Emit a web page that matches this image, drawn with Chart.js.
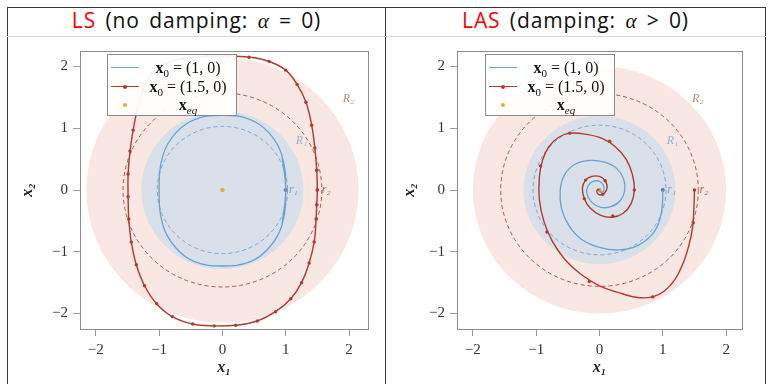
<!DOCTYPE html>
<html>
<head>
<meta charset="utf-8">
<script src="https://cdn.jsdelivr.net/npm/chart.js@4.4.1/dist/chart.umd.min.js"></script>
<style>
  body { margin: 0; width: 768px; height: 384px; background: #fff; position: relative; overflow: hidden; }
  .vline { position: absolute; top: 7px; bottom: 0; width: 1px; background: #3a3a3a; }
  .hline { position: absolute; left: 7px; width: 759px; height: 1px; }
  .title { position: absolute; top: 6px; line-height: 28px; font: 21px "Open Sans", sans-serif; letter-spacing: 0.9px; word-spacing: 3px; color: #111; text-align: center; white-space: nowrap; }
  .title .red { color: #f00; }
  .title i { font-family: "Liberation Serif", serif; }
  .panel { position: absolute; top: 37px; height: 347px; }
  .legend { position: absolute; width: 128px; height: 60px; border: 1px solid #8a8a8a; background: rgba(255,255,255,0.93); font: 16px "Liberation Serif", serif; color: #111; }
  .legend .row { position: absolute; left: 0; width: 100%; height: 19px; line-height: 19px; }
  .legend .key { position: absolute; left: 3px; top: 9px; width: 28px; height: 1.3px; }
  .legend .dot { position: absolute; width: 4px; height: 4px; border-radius: 50%; left: 12px; top: -1.5px; }
  .legend .txt { position: absolute; left: 32px; right: 0; text-align: center; white-space: nowrap; }
  .legend sub { font-size: 11px; line-height: 0; }
</style>
</head>
<body>
<div class="vline" style="left:7px"></div>
<div class="vline" style="left:385px"></div>
<div class="vline" style="left:765px"></div>
<div class="hline" style="top:7px;background:#3a3a3a"></div>
<div class="hline" style="top:36px;background:#d6d6d6"></div>

<div class="title" style="left:8px;width:377px"><span class="red">LS</span> (no damping: <i>α</i> = 0)</div>
<div class="title" style="left:386px;width:379px"><span class="red">LAS</span> (damping: <i>α</i> &gt; 0)</div>

<div class="panel" style="left:8px;width:376px"><canvas id="lsChart" width="376" height="347"></canvas></div>
<div class="panel" style="left:386px;width:378px"><canvas id="lasChart" width="378" height="347"></canvas></div>
<div class="legend" id="lsLegend" style="left:107px;top:54px"></div>
<div class="legend" id="lasLegend" style="left:485px;top:54px"></div>

<script>
// axes
const xTicks = [-2, -1, 0, 1, 2];
const yTicks = [-2, -1, 0, 1, 2];

// LS: trajectories without damping (closed orbits, traced a bit past one turn)
const lsBlue = [[0.94,-0.57],[1.0,0],[0.94,0.56],[0.74,0.92],[0.44,1.14],[0,1.21],[-0.44,1.14],[-0.74,0.92],
  [-0.94,0.56],[-1.0,0],[-0.94,-0.57],[-0.74,-0.93],[-0.44,-1.16],[0,-1.23],[0.44,-1.16],[0.74,-0.93],
  [0.94,-0.57],[1.0,0],[0.94,0.56]];
const lsRed = [[1.49,-0.24],[1.5,0],[1.49,0.32],[1.46,0.68],[1.41,1.05],[1.32,1.42],[1.18,1.71],[1.0,1.94],
  [0.74,2.08],[0.42,2.15],[0.08,2.17],[-0.26,2.16],[-0.61,2.13],[-0.89,2.05],[-1.11,1.89],[-1.25,1.63],
  [-1.34,1.32],[-1.41,0.97],[-1.46,0.63],[-1.49,0.26],[-1.49,-0.11],[-1.48,-0.47],[-1.44,-0.84],
  [-1.36,-1.21],[-1.23,-1.55],[-1.04,-1.84],[-0.79,-2.05],[-0.47,-2.17],[-0.13,-2.2],[0.21,-2.19],
  [0.55,-2.12],[0.84,-1.97],[1.08,-1.76],[1.25,-1.5],[1.37,-1.18],[1.45,-0.84],[1.48,-0.47],[1.49,-0.24],
  [1.5,0],[1.49,0.32]];
const lsRedMarks = lsRed;

// LAS: trajectories with damping (spirals into x_eq)
const lasBlue = [[1.0,0],[0.98,-0.35],[0.86,-0.68],[0.6,-0.9],[0.3,-0.97],[0.0,-0.93],[-0.28,-0.8],
  [-0.48,-0.58],[-0.6,-0.3],[-0.62,0.0],[-0.55,0.25],[-0.38,0.42],[-0.15,0.48],[0.08,0.45],[0.27,0.35],
  [0.38,0.18],[0.4,0.0],[0.33,-0.17],[0.18,-0.27],[0.02,-0.28],[-0.12,-0.2],[-0.2,-0.06],[-0.18,0.07],
  [-0.1,0.14],[0.0,0.14],[0.06,0.08],[0.07,0.0],[0.03,-0.04],[0.0,0.0]];
const lasRed = [[1.5,0],[1.49,-0.3],[1.47,-0.6],[1.42,-0.86],[1.33,-1.16],[1.19,-1.45],[1.02,-1.64],
  [0.84,-1.73],[0.6,-1.74],[0.3,-1.66],[0.0,-1.55],[-0.3,-1.36],[-0.55,-1.12],[-0.75,-0.82],[-0.88,-0.5],
  [-0.95,-0.15],[-0.95,0.2],[-0.9,0.48],[-0.8,0.7],[-0.65,0.85],[-0.47,0.92],[-0.2,0.9],[0.05,0.83],
  [0.25,0.7],[0.42,0.5],[0.52,0.25],[0.55,0],[0.5,-0.22],[0.37,-0.38],[0.2,-0.44],[0.02,-0.41],
  [-0.14,-0.3],[-0.24,-0.14],[-0.27,0.03],[-0.22,0.16],[-0.12,0.22],[0,0.22],[0.09,0.15],[0.12,0.04],
  [0.08,-0.05],[0.01,-0.08],[-0.04,-0.04],[-0.03,0.01],[0,0]];
const lasRedMarks = [[1.5,0],[1.48,-0.53],[0.84,-1.73],[-0.16,-1.48],[-0.83,-0.68],[-0.93,0.39],
  [-0.47,0.92],[0.16,0.79],[0.55,0],[0.21,-0.42],[-0.24,-0.14],[-0.22,0.16],[0.09,0.15],[0.05,-0.07]];

const startPoints = [[1, 0]];
const eqPoint = [[0, 0]];

// regions: discs R2, R1 and dashed level sets r2, r1
const lsDiscR = [2.15, 1.28];
const lsRingR = [1.57, 1.03];
const lasDiscR = [2.0, 1.2];
const lasRingR = [1.56, 1.05];
const lsNotes = [['R₂', 1.9, 1.47], ['R₁', 1.16, 0.79], ['r₁', 1.05, 0], ['r₂', 1.57, 0]];
const lasNotes = [['R₂', 1.46, 1.47], ['R₁', 1.06, 0.79], ['r₁', 1.07, 0], ['r₂', 1.58, 0]];

const blue = '#66a3d2';
const red = '#b2392c';
const orange = '#f0a73a';
const discColors = ['#f9e7e3', '#dae0ea'];
const ringColors = ['#a8564b', '#78a6cd'];
const noteColors = ['#c4877a', '#8cb0d6', '#7d9cbc', '#a9675b'];
const serif = '"Liberation Serif", "DejaVu Serif", serif';

const fmt = v => (v < 0 ? '\u2212' + Math.abs(v) : String(v));
const pts = arr => arr.map(p => ({ x: p[0], y: p[1] }));

const regionsPlugin = {
  id: 'regions',
  beforeDatasetsDraw(chart, args, opts) {
    const { ctx, chartArea: a, scales: { x, y } } = chart;
    const cx = x.getPixelForValue(0), cy = y.getPixelForValue(0);
    const circle = r => {
      ctx.beginPath();
      ctx.ellipse(cx, cy, x.getPixelForValue(r) - cx, cy - y.getPixelForValue(r), 0, 0, Math.PI * 2);
    };
    ctx.save();
    ctx.beginPath();
    ctx.rect(a.left, a.top, a.width, a.height);
    ctx.clip();
    opts.discs.forEach((r, i) => { circle(r); ctx.fillStyle = discColors[i]; ctx.fill(); });
    ctx.setLineDash([4, 3]);
    ctx.lineWidth = 1;
    opts.rings.forEach((r, i) => { circle(r); ctx.strokeStyle = ringColors[i]; ctx.stroke(); });
    ctx.setLineDash([]);
    ctx.font = 'italic 12px ' + serif;
    ctx.textBaseline = 'middle';
    opts.notes.forEach((n, i) => {
      ctx.fillStyle = noteColors[i];
      ctx.fillText(n[0], x.getPixelForValue(n[1]), y.getPixelForValue(n[2]));
    });
    ctx.restore();
  },
  afterDraw(chart) {
    const { ctx, chartArea: a } = chart;
    ctx.save();
    ctx.strokeStyle = '#8c8c8c';
    ctx.lineWidth = 1;
    ctx.strokeRect(Math.round(a.left) + 0.5, Math.round(a.top) + 0.5, Math.round(a.width), Math.round(a.height));
    ctx.restore();
  }
};

function axis(min, max, ticks, fit, titleText, titlePad) {
  return {
    type: 'linear', min, max,
    afterBuildTicks: s => { s.ticks = ticks.map(v => ({ value: v })); },
    afterFit: fit,
    grid: { drawOnChartArea: false, tickLength: 7, color: '#9a9a9a' },
    border: { display: false },
    ticks: { padding: 5, color: '#333', font: { family: serif, size: 15 }, callback: fmt },
    title: { display: true, text: titleText, color: '#222', padding: titlePad,
      font: { family: serif, size: 16, style: 'italic', weight: 'bold' } }
  };
}

function makeChart(id, d, xMin, xMax, padRight, yWidth, yTitlePad) {
  return new Chart(document.getElementById(id), {
    type: 'scatter',
    data: {
      datasets: [
        { data: pts(d.blue), showLine: true, borderColor: blue, borderWidth: 1.3, tension: 0.4, pointRadius: 0 },
        { data: pts(d.red), showLine: true, borderColor: red, borderWidth: 1.4, tension: 0.4, pointRadius: 0 },
        { data: pts(d.marks), showLine: false, pointRadius: 1.7, pointBackgroundColor: red, pointBorderWidth: 0 },
        { data: pts(startPoints), showLine: false, pointRadius: 2, pointBackgroundColor: '#4f7fa6', pointBorderWidth: 0 },
        { data: pts(eqPoint), showLine: false, pointRadius: 2.2, pointBackgroundColor: orange, pointBorderWidth: 0 }
      ]
    },
    options: {
      responsive: false,
      animation: false,
      events: [],
      layout: { padding: { left: 0, top: 8, right: padRight, bottom: 0 } },
      plugins: {
        legend: { display: false },
        tooltip: { enabled: false },
        regions: { discs: d.discs, rings: d.rings, notes: d.notes }
      },
      scales: {
        x: axis(xMin, xMax, xTicks, s => { s.height = 55; }, 'x₁', { top: 0, bottom: 7 }),
        y: axis(-2.25, 2.25, yTicks, s => { s.width = yWidth; }, 'x₂', { top: yTitlePad, bottom: 0 })
      }
    },
    plugins: [regionsPlugin]
  });
}

function makeLegend(id) {
  const el = document.getElementById(id);
  el.innerHTML =
    '<div class="row" style="top:3px"><span class="key" style="background:' + blue + '"></span>' +
    '<span class="txt"><b>x</b><sub>0</sub> = (1, 0)</span></div>' +
    '<div class="row" style="top:22px"><span class="key" style="background:' + red + ';height:1.4px">' +
    '<span class="dot" style="background:' + red + '"></span></span>' +
    '<span class="txt"><b>x</b><sub>0</sub> = (1.5, 0)</span></div>' +
    '<div class="row" style="top:40px"><span class="key" style="height:0"><span class="dot" style="background:' + orange + '"></span></span>' +
    '<span class="txt"><b>x</b><sub><i>eq</i></sub></span></div>';
}

makeChart('lsChart', { blue: lsBlue, red: lsRed, marks: lsRedMarks, discs: lsDiscR, rings: lsRingR, notes: lsNotes },
  -2.25, 2.3, 16, 72, 10);
makeChart('lasChart', { blue: lasBlue, red: lasRed, marks: lasRedMarks, discs: lasDiscR, rings: lasRingR, notes: lasNotes },
  -2.25, 2.25, 22, 71, 14);
makeLegend('lsLegend');
makeLegend('lasLegend');
</script>
</body>
</html>
